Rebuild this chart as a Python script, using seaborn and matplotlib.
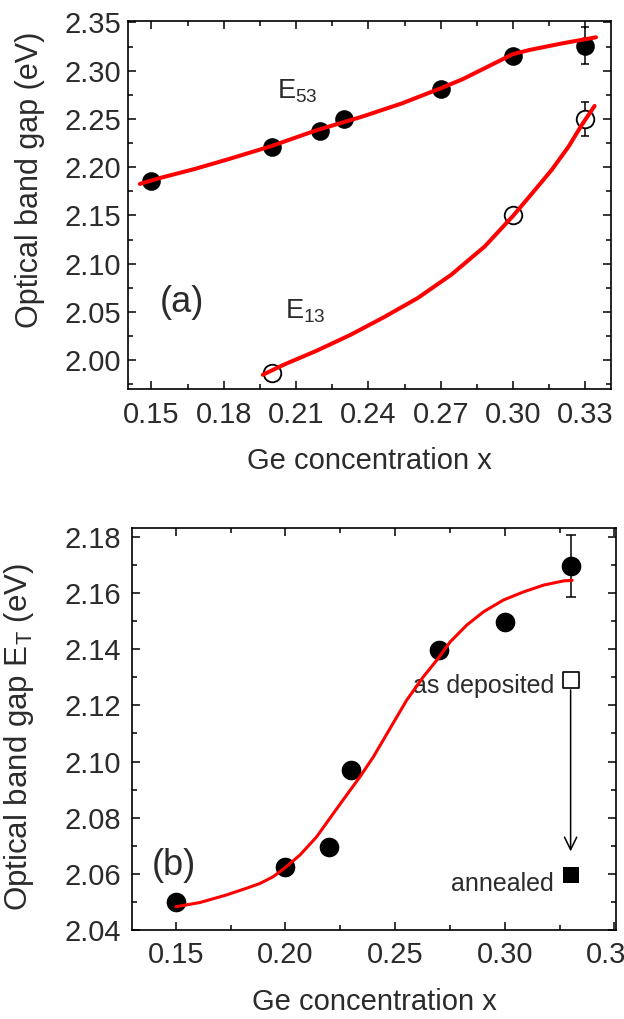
import matplotlib
matplotlib.use("Agg")
import matplotlib.pyplot as plt
import seaborn as sns
from matplotlib.ticker import MultipleLocator, FormatStrFormatter

# ---------------- panel (a): E53 and E13 optical gaps ----------------
x_e53 = [0.15, 0.20, 0.22, 0.23, 0.27, 0.30, 0.33]
gap_e53 = [2.186, 2.221, 2.238, 2.250, 2.281, 2.315, 2.326]
err_e53_last = 0.019

x_e13 = [0.20, 0.30, 0.33]
gap_e13 = [1.987, 2.150, 2.250]
err_e13_last = 0.018

# fitted curves
fit53_x = [0.1452, 0.1541, 0.1680, 0.1819, 0.1999, 0.2180, 0.2374, 0.2540,
           0.2700, 0.2790, 0.2873, 0.2998, 0.3067, 0.3206, 0.3344]
fit53_y = [2.1827, 2.1892, 2.1982, 2.2083, 2.2220, 2.2379, 2.2524, 2.2662,
           2.2818, 2.2911, 2.3014, 2.3170, 2.3214, 2.3284, 2.3346]
fit13_x = [0.1962, 0.2048, 0.2187, 0.2326, 0.2465, 0.2604, 0.2743, 0.2882,
           0.3000, 0.3091, 0.3160, 0.3230, 0.3285, 0.3338]
fit13_y = [1.9850, 1.9953, 2.0101, 2.0264, 2.0447, 2.0644, 2.0885, 2.1178,
           2.1496, 2.1765, 2.1972, 2.2213, 2.2438, 2.2635]

# ---------------- panel (b): Tauc gap E_T ----------------
x_et = [0.15, 0.20, 0.22, 0.23, 0.27, 0.30, 0.33]
gap_et = [2.050, 2.0625, 2.0695, 2.097, 2.1397, 2.1495, 2.1695]
err_et_last = 0.011

fitT_x = [0.1500, 0.1610, 0.1731, 0.1823, 0.1884, 0.1944, 0.1995, 0.2066,
          0.2142, 0.2218, 0.2295, 0.2340, 0.2401, 0.2477, 0.2553, 0.2629,
          0.2690, 0.2751, 0.2827, 0.2903, 0.2994, 0.3086, 0.3177, 0.3268,
          0.3307]
fitT_y = [2.0483, 2.0498, 2.0525, 2.0549, 2.0566, 2.0590, 2.0620, 2.0667,
          2.0732, 2.0815, 2.0898, 2.0946, 2.1017, 2.1118, 2.1219, 2.1302,
          2.1361, 2.1426, 2.1486, 2.1533, 2.1575, 2.1604, 2.1628, 2.1643,
          2.1645]

x_treated = [0.33]
gap_as_deposited = [2.129]
gap_annealed = [2.0595]

# ---------------- style ----------------
sns.set_theme(style="ticks")
FONT = ["Liberation Sans", "DejaVu Sans"]
TXT = "#2b2b2b"
plt.rcParams["font.family"] = FONT
plt.rcParams["mathtext.fontset"] = "custom"
plt.rcParams["mathtext.rm"] = "Liberation Sans"
plt.rcParams["mathtext.it"] = "Liberation Sans:italic"
plt.rcParams["text.color"] = TXT
plt.rcParams["axes.labelcolor"] = TXT

fig = plt.figure(figsize=(6.24, 10.19), dpi=100)
ax1 = fig.add_axes([0.2051, 0.6180, 0.7740, 0.3617])
ax2 = fig.add_axes([0.2115, 0.0873, 0.7757, 0.3942])


def style_axes(ax, xpad, ypad):
    for sp in ax.spines.values():
        sp.set_visible(True)
        sp.set_linewidth(1.2)
        sp.set_color("black")
    ax.tick_params(which="both", direction="in", top=True, right=True,
                   color="black", width=1.1, labelcolor=TXT, labelsize=21)
    ax.tick_params(which="major", length=6)
    ax.tick_params(which="minor", length=3.5)
    ax.tick_params(axis="x", pad=xpad)
    ax.tick_params(axis="y", pad=ypad)
    ax.grid(False)


# ---------- panel (a) ----------
sns.scatterplot(x=x_e53, y=gap_e53, ax=ax1, color="black", s=180,
                marker="o", linewidth=0, zorder=3)
sns.scatterplot(x=x_e13, y=gap_e13, ax=ax1, color="white", edgecolor="black",
                s=160, marker="o", linewidth=1.3, zorder=3)
ax1.errorbar(x_e53[-1], gap_e53[-1], yerr=err_e53_last, fmt="none",
             ecolor="black", elinewidth=1.1, capsize=3, capthick=1.1, zorder=2)
ax1.errorbar(x_e13[-1], gap_e13[-1], yerr=err_e13_last, fmt="none",
             ecolor="black", elinewidth=1.1, capsize=3, capthick=1.1, zorder=2)
sns.lineplot(x=fit53_x, y=fit53_y, ax=ax1, sort=False, estimator=None,
             color="#ff0000", lw=2.9, zorder=4)
sns.lineplot(x=fit13_x, y=fit13_y, ax=ax1, sort=False, estimator=None,
             color="#ff0000", lw=2.9, zorder=4)

ax1.set_xlim(0.1403, 0.3406)
ax1.set_ylim(1.970, 2.3518)
ax1.xaxis.set_major_locator(MultipleLocator(0.03))
ax1.xaxis.set_minor_locator(MultipleLocator(0.015))
ax1.yaxis.set_major_locator(MultipleLocator(0.05))
ax1.yaxis.set_minor_locator(MultipleLocator(0.025))
ax1.xaxis.set_major_formatter(FormatStrFormatter("%.2f"))
ax1.yaxis.set_major_formatter(FormatStrFormatter("%.2f"))
style_axes(ax1, xpad=8.5, ypad=5)
ax1.set_xlabel("Ge concentration x", fontsize=21, labelpad=13)
ax1.set_ylabel("Optical band gap (eV)", fontsize=22, labelpad=14, y=0.568)

ax1.text(0.2021, 2.2707, "E$_{53}$", fontsize=19.5, ha="left", va="baseline")
ax1.text(0.2054, 2.0437, "E$_{13}$", fontsize=19.5, ha="left", va="baseline")
ax1.text(0.1628, 2.050, "(a)", fontsize=26, ha="center", va="baseline")

# ---------- panel (b) ----------
sns.scatterplot(x=x_et, y=gap_et, ax=ax2, color="black", s=200,
                marker="o", linewidth=0, zorder=3)
ax2.errorbar(x_et[-1], gap_et[-1], yerr=err_et_last, fmt="none",
             ecolor="black", elinewidth=1.1, capsize=3.3, capthick=1.1, zorder=2)
sns.lineplot(x=fitT_x, y=fitT_y, ax=ax2, sort=False, estimator=None,
             color="#ff0000", lw=2.2, zorder=4)
sns.scatterplot(x=x_treated, y=gap_as_deposited, ax=ax2, color="white",
                edgecolor="black", marker="s", s=135, linewidth=1.2, zorder=3)
sns.scatterplot(x=x_treated, y=gap_annealed, ax=ax2, color="black",
                marker="s", s=145, linewidth=0, zorder=3)
ax2.annotate("", xy=(x_treated[0], 2.068), xytext=(x_treated[0], 2.1255),
             arrowprops=dict(arrowstyle="->,head_length=0.45,head_width=0.22",
                             mutation_scale=20, lw=1.1, color="black",
                             shrinkA=0, shrinkB=0))
ax2.text(0.3224, 2.1243, "as deposited", fontsize=18, ha="right", va="baseline")
ax2.text(0.3224, 2.0540, "annealed", fontsize=18, ha="right", va="baseline")
ax2.text(0.1489, 2.0596, "(b)", fontsize=26, ha="center", va="baseline")

ax2.set_xlim(0.130, 0.3507)
ax2.set_ylim(2.040, 2.183)
ax2.xaxis.set_major_locator(MultipleLocator(0.05))
ax2.xaxis.set_minor_locator(MultipleLocator(0.025))
ax2.yaxis.set_major_locator(MultipleLocator(0.02))
ax2.yaxis.set_minor_locator(MultipleLocator(0.01))
ax2.xaxis.set_major_formatter(FormatStrFormatter("%.2f"))
ax2.yaxis.set_major_formatter(FormatStrFormatter("%.2f"))
style_axes(ax2, xpad=8, ypad=8)
ax2.set_xlabel("Ge concentration x", fontsize=21, labelpad=13.5)
ax2.set_ylabel("Optical band gap E$_\\mathrm{T}$ (eV)", fontsize=22.5,
               labelpad=20, y=0.48)

fig.savefig("out.png", dpi=100)
